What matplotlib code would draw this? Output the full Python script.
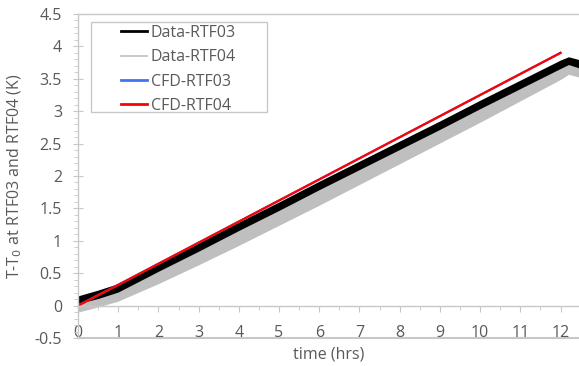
import matplotlib.pyplot as plt
from matplotlib.patches import Rectangle
from matplotlib.ticker import MultipleLocator

# -------------------------
# Values
# -------------------------
t_knots = [0, 0.5, 1, 2, 3, 4, 5, 6, 7, 8, 9, 10, 11, 12, 12.2, 12.5]

# Data-RTF03 (black, noisy band): upper / lower envelope
rtf03_hi = [0.15, 0.24, 0.34, 0.66, 0.97, 1.29, 1.60, 1.92, 2.23, 2.54, 2.85, 3.17, 3.48, 3.79, 3.84, 3.79]
rtf03_lo = [0.03, 0.11, 0.21, 0.53, 0.84, 1.16, 1.47, 1.79, 2.10, 2.41, 2.72, 3.04, 3.35, 3.66, 3.72, 3.66]

# Data-RTF04 (grey band): upper / lower envelope
rtf04_hi = [0.08, 0.17, 0.28, 0.59, 0.90, 1.22, 1.53, 1.85, 2.16, 2.47, 2.78, 3.10, 3.41, 3.70, 3.75, 3.70]
rtf04_lo = [-0.10, -0.02, 0.07, 0.34, 0.63, 0.93, 1.24, 1.55, 1.87, 2.19, 2.51, 2.83, 3.16, 3.49, 3.57, 3.52]

# CFD curves (straight lines, RTF03 hidden under RTF04)
cfd_t = [0, 1, 12]
cfd_rtf03 = [0.0, 0.32, 3.90]
cfd_rtf04 = [0.0, 0.32, 3.90]

x_ticks = list(range(0, 13))
y_ticks = [-0.5, 0, 0.5, 1, 1.5, 2, 2.5, 3, 3.5, 4, 4.5]
y_labels = ['-0.5', '0', '0.5', '1', '1.5', '2', '2.5', '3', '3.5', '4', '4.5']

text_col = '#595959'
axis_col = '#c8c8c8'

plt.rcParams['font.family'] = ['Open Sans', 'DejaVu Sans']

fig = plt.figure(figsize=(5.79, 3.66), dpi=100)
ax = fig.add_axes([78 / 579, 28 / 366, 501 / 579, 324 / 366])

ax.fill_between(t_knots, rtf04_lo, rtf04_hi, color='#bfbfbf', lw=0)
ax.fill_between(t_knots, rtf03_lo, rtf03_hi, color='black', lw=0)
ax.plot(cfd_t, cfd_rtf03, color='#4472f4', lw=1.6)
ax.plot(cfd_t, cfd_rtf04, color='#ff0000', lw=1.6)

# -------------------------
# Legend (Excel style box with wide padding)
# -------------------------
ax.add_patch(Rectangle((13 / 501, 0.698), 0.351, 0.277, transform=ax.transAxes,
                       facecolor='white', edgecolor=axis_col, lw=1.0, zorder=4))
ax.plot([], [], color='black', lw=2, label='Data-RTF03')
ax.plot([], [], color='#bfbfbf', lw=1.2, label='Data-RTF04')
ax.plot([], [], color='#4472f4', lw=2, label='CFD-RTF03')
ax.plot([], [], color='#ff0000', lw=2, label='CFD-RTF04')
handles, labels = ax.get_legend_handles_labels()
leg = ax.legend(handles[-4:], labels[-4:], loc='upper left',
                bbox_to_anchor=(43 / 501, 1 - 11 / 324), fontsize=11.5,
                frameon=False, handlelength=1.65, handletextpad=0.2,
                borderpad=0, labelspacing=0.52, borderaxespad=0)
leg.set_zorder(5)
for txt in leg.get_texts():
    txt.set_color(text_col)

ax.set_xlim(0, 12.46)
ax.set_ylim(-0.5, 4.5)
ax.set_xticks(x_ticks)
ax.set_yticks(y_ticks)
ax.set_yticklabels(y_labels)
ax.xaxis.set_minor_locator(MultipleLocator(0.5))
ax.yaxis.set_minor_locator(MultipleLocator(0.1))

for s in ['left', 'bottom', 'top']:
    ax.spines[s].set_color(axis_col)
    ax.spines[s].set_linewidth(1.0)
ax.spines['right'].set_visible(False)
ax.spines['bottom'].set_position(('data', 0))
ax.axhline(-0.5, color=axis_col, lw=1.5, clip_on=False, zorder=0)

ax.tick_params(axis='x', which='major', direction='out', length=4, color=axis_col,
               labelsize=11.5, labelcolor=text_col, pad=10)
ax.tick_params(axis='x', which='minor', direction='out', length=3, color=axis_col)
ax.tick_params(axis='y', which='major', direction='inout', length=7, color=axis_col,
               labelsize=11.5, labelcolor=text_col, pad=8)
ax.tick_params(axis='y', which='minor', direction='out', length=3, color=axis_col)

ax.set_xlabel('time (hrs)', fontsize=11.5, color=text_col)
ax.xaxis.set_label_coords(0.5, -0.025)
ax.set_ylabel('T-T$_0$ at RTF03 and RTF04 (K)', fontsize=11.5, color=text_col)
ax.yaxis.set_label_coords(-0.108, 0.5)

fig.savefig('out.png', dpi=100)
plt.close()
